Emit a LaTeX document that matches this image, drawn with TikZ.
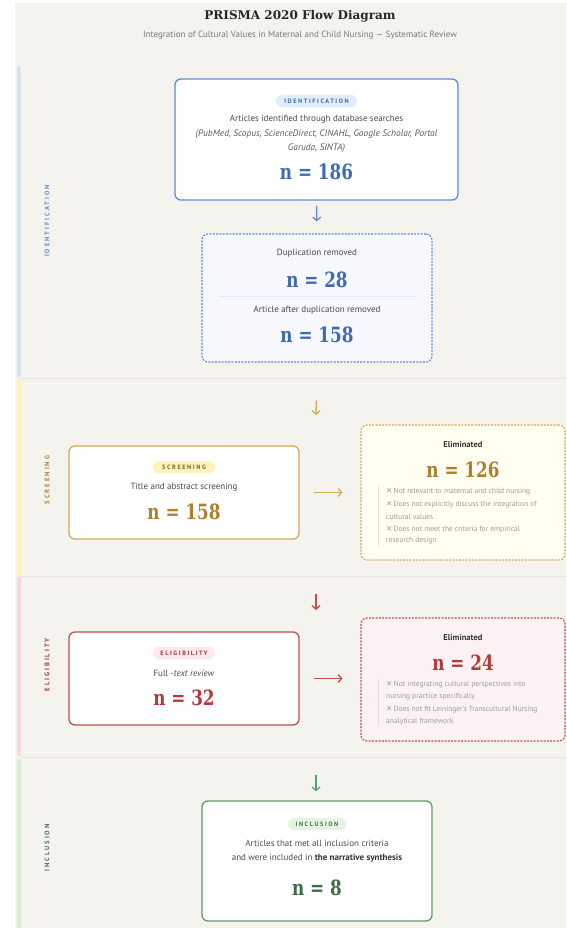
\documentclass[tikz,border=0pt]{standalone}
\usepackage{fontspec}
\setmainfont{PT Sans}
\newfontfamily\numfont{DejaVu Serif}[FakeStretch=0.8]
\newfontfamily\headfont{DejaVu Serif}
\newfontfamily\symfont{DejaVu Sans}
\newfontfamily\badgefont{PT Sans}[LetterSpace=25]
\newfontfamily\phasefont{PT Sans}[LetterSpace=30]
\usetikzlibrary{arrows.meta}

\definecolor{pagebg}{HTML}{F5F3EE}
\definecolor{txtgray}{HTML}{4A4A4A}
\definecolor{listgray}{HTML}{9C9C9C}
\definecolor{subgray}{HTML}{7A7A7A}
\definecolor{sepgray}{HTML}{E8E5DE}
% blue
\definecolor{idline}{HTML}{5B8ED8}
\definecolor{idnum}{HTML}{3F6BB2}
\definecolor{idbadge}{HTML}{E2EDFB}
\definecolor{idfill}{HTML}{F6F8FD}
\definecolor{idbar}{HTML}{CFE2F7}
% gold
\definecolor{scline}{HTML}{D5A955}
\definecolor{scnum}{HTML}{AF7E2F}
\definecolor{scbadge}{HTML}{FBF4BE}
\definecolor{sctext}{HTML}{8A6420}
\definecolor{scfill}{HTML}{FFFEF1}
\definecolor{scbar}{HTML}{FBF4B5}
% red
\definecolor{elline}{HTML}{C0504D}
\definecolor{elnum}{HTML}{B33A3A}
\definecolor{elbadge}{HTML}{FBE9EB}
\definecolor{eltext}{HTML}{9E3A3A}
\definecolor{elfill}{HTML}{FDF2F3}
\definecolor{elbar}{HTML}{F8D8DB}
% green
\definecolor{inline}{HTML}{5E9E6C}
\definecolor{innum}{HTML}{3C6E4A}
\definecolor{inbadge}{HTML}{E5F3E5}
\definecolor{intext}{HTML}{4A6E52}
\definecolor{inbar}{HTML}{D6EFD6}

\tikzset{
  stagebox/.style={draw, line width=1.3pt, rounded corners=6pt, fill=white, inner sep=0pt},
  elimbox/.style={draw, line width=1.1pt, dash pattern=on 2pt off 1.3pt, rounded corners=6pt, inner sep=0pt},
  badge/.style={rounded corners=6pt, inner sep=0pt, minimum height=12pt,
    font=\badgefont\bfseries\fontsize{6.3}{7}\selectfont},
  bodytxt/.style={inner sep=0pt, text=txtgray, font=\fontsize{9}{10}\selectfont},
  srctxt/.style={inner sep=0pt, text=txtgray!90, font=\itshape\fontsize{9.4}{10}\selectfont},
  count/.style={inner sep=0pt, font=\numfont\bfseries\fontsize{21}{23}\selectfont},
  elimhead/.style={inner sep=0pt, text=black!80, font=\bfseries\fontsize{8.5}{9}\selectfont},
  listtxt/.style={anchor=west, inner sep=0pt, text=listgray, font=\fontsize{7.5}{8}\selectfont},
  phaselabel/.style={rotate=90, inner sep=0pt, font=\phasefont\bfseries\fontsize{6.6}{7}\selectfont},
  flowarrow/.style={line width=1.3pt, -{Straight Barb[length=3.5pt,width=8pt]}},
}
\newcommand{\xmark}{{\symfont ✕}\,}

\begin{document}
\begin{tikzpicture}[x=1pt,y=-1pt]
  \useasboundingbox (0,0) rectangle (566,928);
  \fill[pagebg] (15,3) rectangle (566,928);

  % phase bars and separators
  \fill[idbar, rounded corners=1pt] (17,66) rectangle (20.5,377);
  \fill[scbar] (17,380) rectangle (20.5,575);
  \fill[elbar] (17,577) rectangle (20.5,756);
  \fill[inbar] (17,759) rectangle (20.5,928);
  \draw[sepgray, line width=0.8pt] (21,378) -- (566,378);
  \draw[sepgray, line width=0.8pt] (21,576) -- (566,576);
  \draw[sepgray, line width=0.8pt] (21,757.5) -- (566,757.5);

  \node[phaselabel, text=idnum!80] (lblid) at (47,221) {IDENTIFICATION};
  \node[phaselabel, text=scnum] (lblsc) at (47,480) {SCREENING};
  \node[phaselabel, text=eltext] (lblel) at (47,665) {ELIGIBILITY};
  \node[phaselabel, text=intext] (lblin) at (47,848) {INCLUSION};

  % title
  \node[inner sep=0pt, text=black!85, font=\headfont\bfseries\fontsize{12}{14}\selectfont] (title) at (300,16) {PRISMA 2020 Flow Diagram};
  \node[inner sep=0pt, text=subgray, font=\fontsize{9}{10}\selectfont] (subtitle) at (300,35) {Integration of Cultural Values in Maternal and Child Nursing — Systematic Review};

  % identification
  \node[stagebox, draw=idline, minimum width=283pt, minimum height=121pt] (ident) at (316.5,139.5) {};
  \node[badge, fill=idbadge, text=idnum, minimum width=81pt] (identbadge) at (316.5,101) {IDENTIFICATION};
  \node[bodytxt] (identtxt) at (316.5,119) {Articles identified through database searches};
  \node[srctxt] (identsrc) at (316.5,134) {(PubMed, Scopus, ScienceDirect, CINAHL, Google Scholar, Portal};
  \node[srctxt] (identsrcb) at (316.5,148) {Garuda, SINTA)};
  \node[count, text=idnum] (identn) at (316.5,172) {n = 186};

  \node[elimbox, draw=idline, fill=idfill, minimum width=230pt, minimum height=128pt] (dup) at (317,298) {};
  \node[bodytxt] (duptxt) at (317,253) {Duplication removed};
  \node[count, text=idnum] (dupn) at (317,280) {n = 28};
  \draw[idbar!70, line width=0.6pt] (218,296) -- (416,296);
  \node[bodytxt] (aftertxt) at (317,310) {Article after duplication removed};
  \node[count, text=idnum] (aftern) at (317,335) {n = 158};

  \draw[flowarrow, idline, shorten <=5pt, shorten >=12pt] (ident.south) -- (dup.south |- dup.north);

  % screening
  \coordinate (scend) at (316,415);
  \draw[flowarrow, scline, shorten <=38pt] (dup.south) -- (scend);

  \node[stagebox, draw=scline, minimum width=230pt, minimum height=93pt] (screen) at (184,492.5) {};
  \node[badge, fill=scbadge, text=sctext, minimum width=62pt] (screenbadge) at (184,467) {SCREENING};
  \node[bodytxt] (screentxt) at (184,487) {Title and abstract screening};
  \node[count, text=scnum] (screenn) at (184,512) {n = 158};

  \node[elimbox, draw=scline, fill=scfill, minimum width=204pt, minimum height=135pt] (elimsc) at (463,492.5) {};
  \node[elimhead] (elimschead) at (463,445) {Eliminated};
  \node[count, text=scnum] (elimscn) at (463,470) {n = 126};
  \draw[black!12, line width=0.8pt] (378,486) -- (378,546);
  \node[listtxt] (scitema) at (386,492) {\xmark Not relevant to maternal and child nursing};
  \node[listtxt] (scitemb) at (386,505) {\xmark Does not explicitly discuss the integration of};
  \node[listtxt] (scitemc) at (386,517) {cultural values};
  \node[listtxt] (scitemd) at (386,530) {\xmark Does not meet the criteria for empirical};
  \node[listtxt] (sciteme) at (386,541) {research design};

  \draw[flowarrow, scline, shorten <=14pt, shorten >=18pt] (screen.east) -- (elimsc.west |- screen.east);

  % eligibility
  \coordinate (elstart) at (316,594);
  \coordinate (elend) at (316,610);
  \draw[flowarrow, elline] (elstart) -- (elend);

  \node[stagebox, draw=elline, minimum width=230pt, minimum height=93pt] (elig) at (184,678.5) {};
  \node[badge, fill=elbadge, text=eltext, minimum width=62pt] (eligbadge) at (184,653) {ELIGIBILITY};
  \node[bodytxt] (eligtxt) at (184,673) {Full \textit{-text review}};
  \node[count, text=elnum] (eligin) at (184,698) {n = 32};

  \node[elimbox, draw=elline, fill=elfill, minimum width=204pt, minimum height=123pt] (elimel) at (463,679.5) {};
  \node[elimhead] (elimelhead) at (463,638) {Eliminated};
  \node[count, text=elnum] (elimeln) at (463,663) {n = 24};
  \draw[black!12, line width=0.8pt] (378,679) -- (378,726);
  \node[listtxt] (elitema) at (386,685) {\xmark Not integrating cultural perspectives into};
  \node[listtxt] (elitemb) at (386,697) {nursing practice specifically};
  \node[listtxt] (elitemc) at (386,710) {\xmark Does not fit Leininger's Transcultural Nursing};
  \node[listtxt] (elitemd) at (386,722) {analytical framework};

  \draw[flowarrow, elline, shorten <=14pt, shorten >=18pt] (elig.east) -- (elimel.west |- elig.east);

  % inclusion
  \node[stagebox, draw=inline, minimum width=230pt, minimum height=120pt] (incl) at (317,861) {};
  \node[badge, fill=inbadge, text=intext, minimum width=58pt] (inclbadge) at (317,824) {INCLUSION};
  \node[bodytxt] (incltxt) at (317,843) {Articles that met all inclusion criteria};
  \node[bodytxt] (incltxtb) at (317,858) {and were included in \textbf{\color{black!80}the narrative synthesis}};
  \node[count, text=innum] (incln) at (317,888) {n = 8};

  \coordinate (instart) at (316,775);
  \draw[flowarrow, inline, shorten >=9pt] (instart) -- (instart |- incl.north);
\end{tikzpicture}
\end{document}
